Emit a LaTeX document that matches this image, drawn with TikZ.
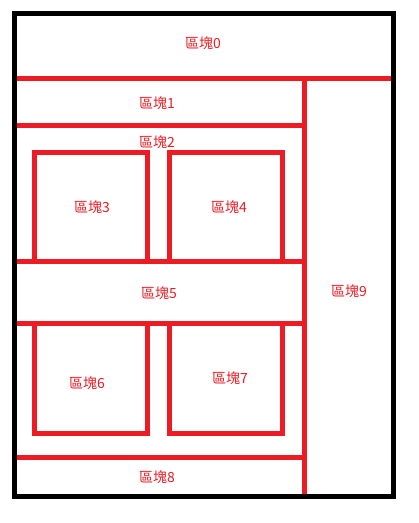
\documentclass[tikz,border=0pt]{standalone}
\usepackage{fontspec}
\newfontfamily\cjk{Noto Sans CJK TC}
\usepackage{tikz}
\usetikzlibrary{positioning}
\definecolor{wallred}{RGB}{237,28,36}

\begin{document}
\begin{tikzpicture}[x=1pt, y=-1pt, wall/.style = {draw=wallred, line width=5pt}, frame/.style = {draw=black, line width=5pt}, blk/.style = {text=wallred, font=\cjk\fontsize{14}{16}\selectfont, inner sep=0pt}]
\useasboundingbox (0,0) rectangle (419,523);

\draw[wall] (14.5,78) -- (393.5,78);
\draw[wall] (304,78) -- (304,496);
\draw[wall] (14.5,125) -- (304,125);
\draw[wall] (14.5,261.5) -- (304,261.5);
\draw[wall] (14.5,323.5) -- (304,323.5);
\draw[wall] (14.5,457.5) -- (304,457.5);
\draw[wall] (34.5,152.5) rectangle (147.5,261.5);
\draw[wall] (169,152.5) rectangle (282.5,261.5);
\draw[wall] (34.5,323.5) rectangle (147.5,433.5);
\draw[wall] (169,323.5) rectangle (282.5,433.5);
\draw[frame] (14.5,13.5) rectangle (393.5,496);

\node[blk] (0) at (203,43) {區塊0};
\node[blk] (1) at (157,103) {區塊1};
\node[blk] (2) at (157,142) {區塊2};
\node[blk] (3) at (92,207) {區塊3};
\node[blk] (4) at (229,207) {區塊4};
\node[blk] (5) at (159,293) {區塊5};
\node[blk] (6) at (87,383) {區塊6};
\node[blk] (7) at (230,378) {區塊7};
\node[blk] (8) at (157,477) {區塊8};
\node[blk] (9) at (349,291) {區塊9};
\end{tikzpicture}
\end{document}
